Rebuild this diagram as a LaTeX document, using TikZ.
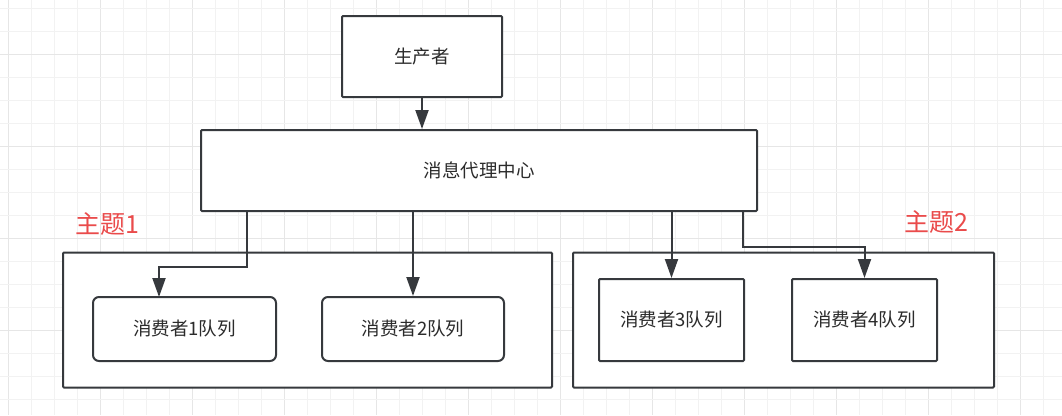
\documentclass[tikz,border=0pt]{standalone}
\usepackage{fontspec}
\setmainfont{Noto Sans CJK SC}
\usetikzlibrary{arrows.meta}
\definecolor{stroke}{HTML}{36393D}
\definecolor{txt}{HTML}{2B2B2B}
\definecolor{topicred}{HTML}{EA4B4B}
\definecolor{gridminor}{HTML}{F2F2F2}
\definecolor{gridmajor}{HTML}{E6E6E6}
\tikzset{
  box/.style={draw=stroke, line width=2pt, fill=white, rounded corners=1pt, text=txt, font=\fontsize{18.5}{22}\selectfont, inner sep=0pt},
  rbox/.style={box, rounded corners=6pt},
  topic/.style={text=topicred, font=\fontsize{25}{29}\selectfont, inner sep=0pt},
  arr/.style={draw=stroke, line width=2pt, -{Triangle[length=19pt,width=13pt,fill=stroke]}},
  gminor/.style={draw=gridminor, line width=1pt},
  gmajor/.style={draw=gridmajor, line width=1pt}
}
\begin{document}
\begin{tikzpicture}[x=1pt,y=-1pt]
\fill[white] (0,0) rectangle (1062,415);
\useasboundingbox (0,0) rectangle (1062,415);
% grid
\foreach \i in {0,...,46}{
  \pgfmathtruncatemacro{\m}{mod(\i,4)}
  \ifnum\m=0 \draw[gmajor] (8+23*\i,0) -- (8+23*\i,415);
  \else \draw[gminor] (8+23*\i,0) -- (8+23*\i,415); \fi
}
\foreach \i in {0,...,18}{
  \pgfmathtruncatemacro{\m}{mod(\i,4)}
  \ifnum\m=2 \draw[gmajor] (0,8+23*\i) -- (1062,8+23*\i);
  \else \draw[gminor] (0,8+23*\i) -- (1062,8+23*\i); \fi
}
% nodes
\node[box, minimum width=160pt, minimum height=81pt] (prod) at (422,56.5) {生产者};
\node[box, minimum width=556pt, minimum height=81pt] (broker) at (479,170.5) {消息代理中心};
\node[box, minimum width=489pt, minimum height=135pt] (t1) at (307.5,320) {};
\node[box, minimum width=421pt, minimum height=135pt] (t2) at (783.5,320) {};
\node[rbox, minimum width=183pt, minimum height=64pt] (c1) at (184.5,329) {消费者1队列};
\node[rbox, minimum width=182pt, minimum height=64pt] (c2) at (413,329) {消费者2队列};
\node[box, minimum width=145pt, minimum height=82pt] (c3) at (671.5,320) {消费者3队列};
\node[box, minimum width=145pt, minimum height=82pt] (c4) at (864.5,320) {消费者4队列};
\node[topic] (l1) at (107,224) {主题1};
\node[topic] (l2) at (936,222) {主题2};
% connector anchor points
\coordinate (b1) at (247,211);
\coordinate (c1in) at (159,297);
\coordinate (b4) at (743,211);
% connectors
\draw[arr] (prod.south) -- (prod.south |- broker.north);
\draw[arr] (b1) -- ++(0,56) -| (c1in);
\draw[arr] (broker.south -| c2.north) -- (c2.north);
\draw[arr] (broker.south -| c3.north) -- (c3.north);
\draw[arr] (b4) -- ++(0,36) -| (c4.north);
\end{tikzpicture}
\end{document}
